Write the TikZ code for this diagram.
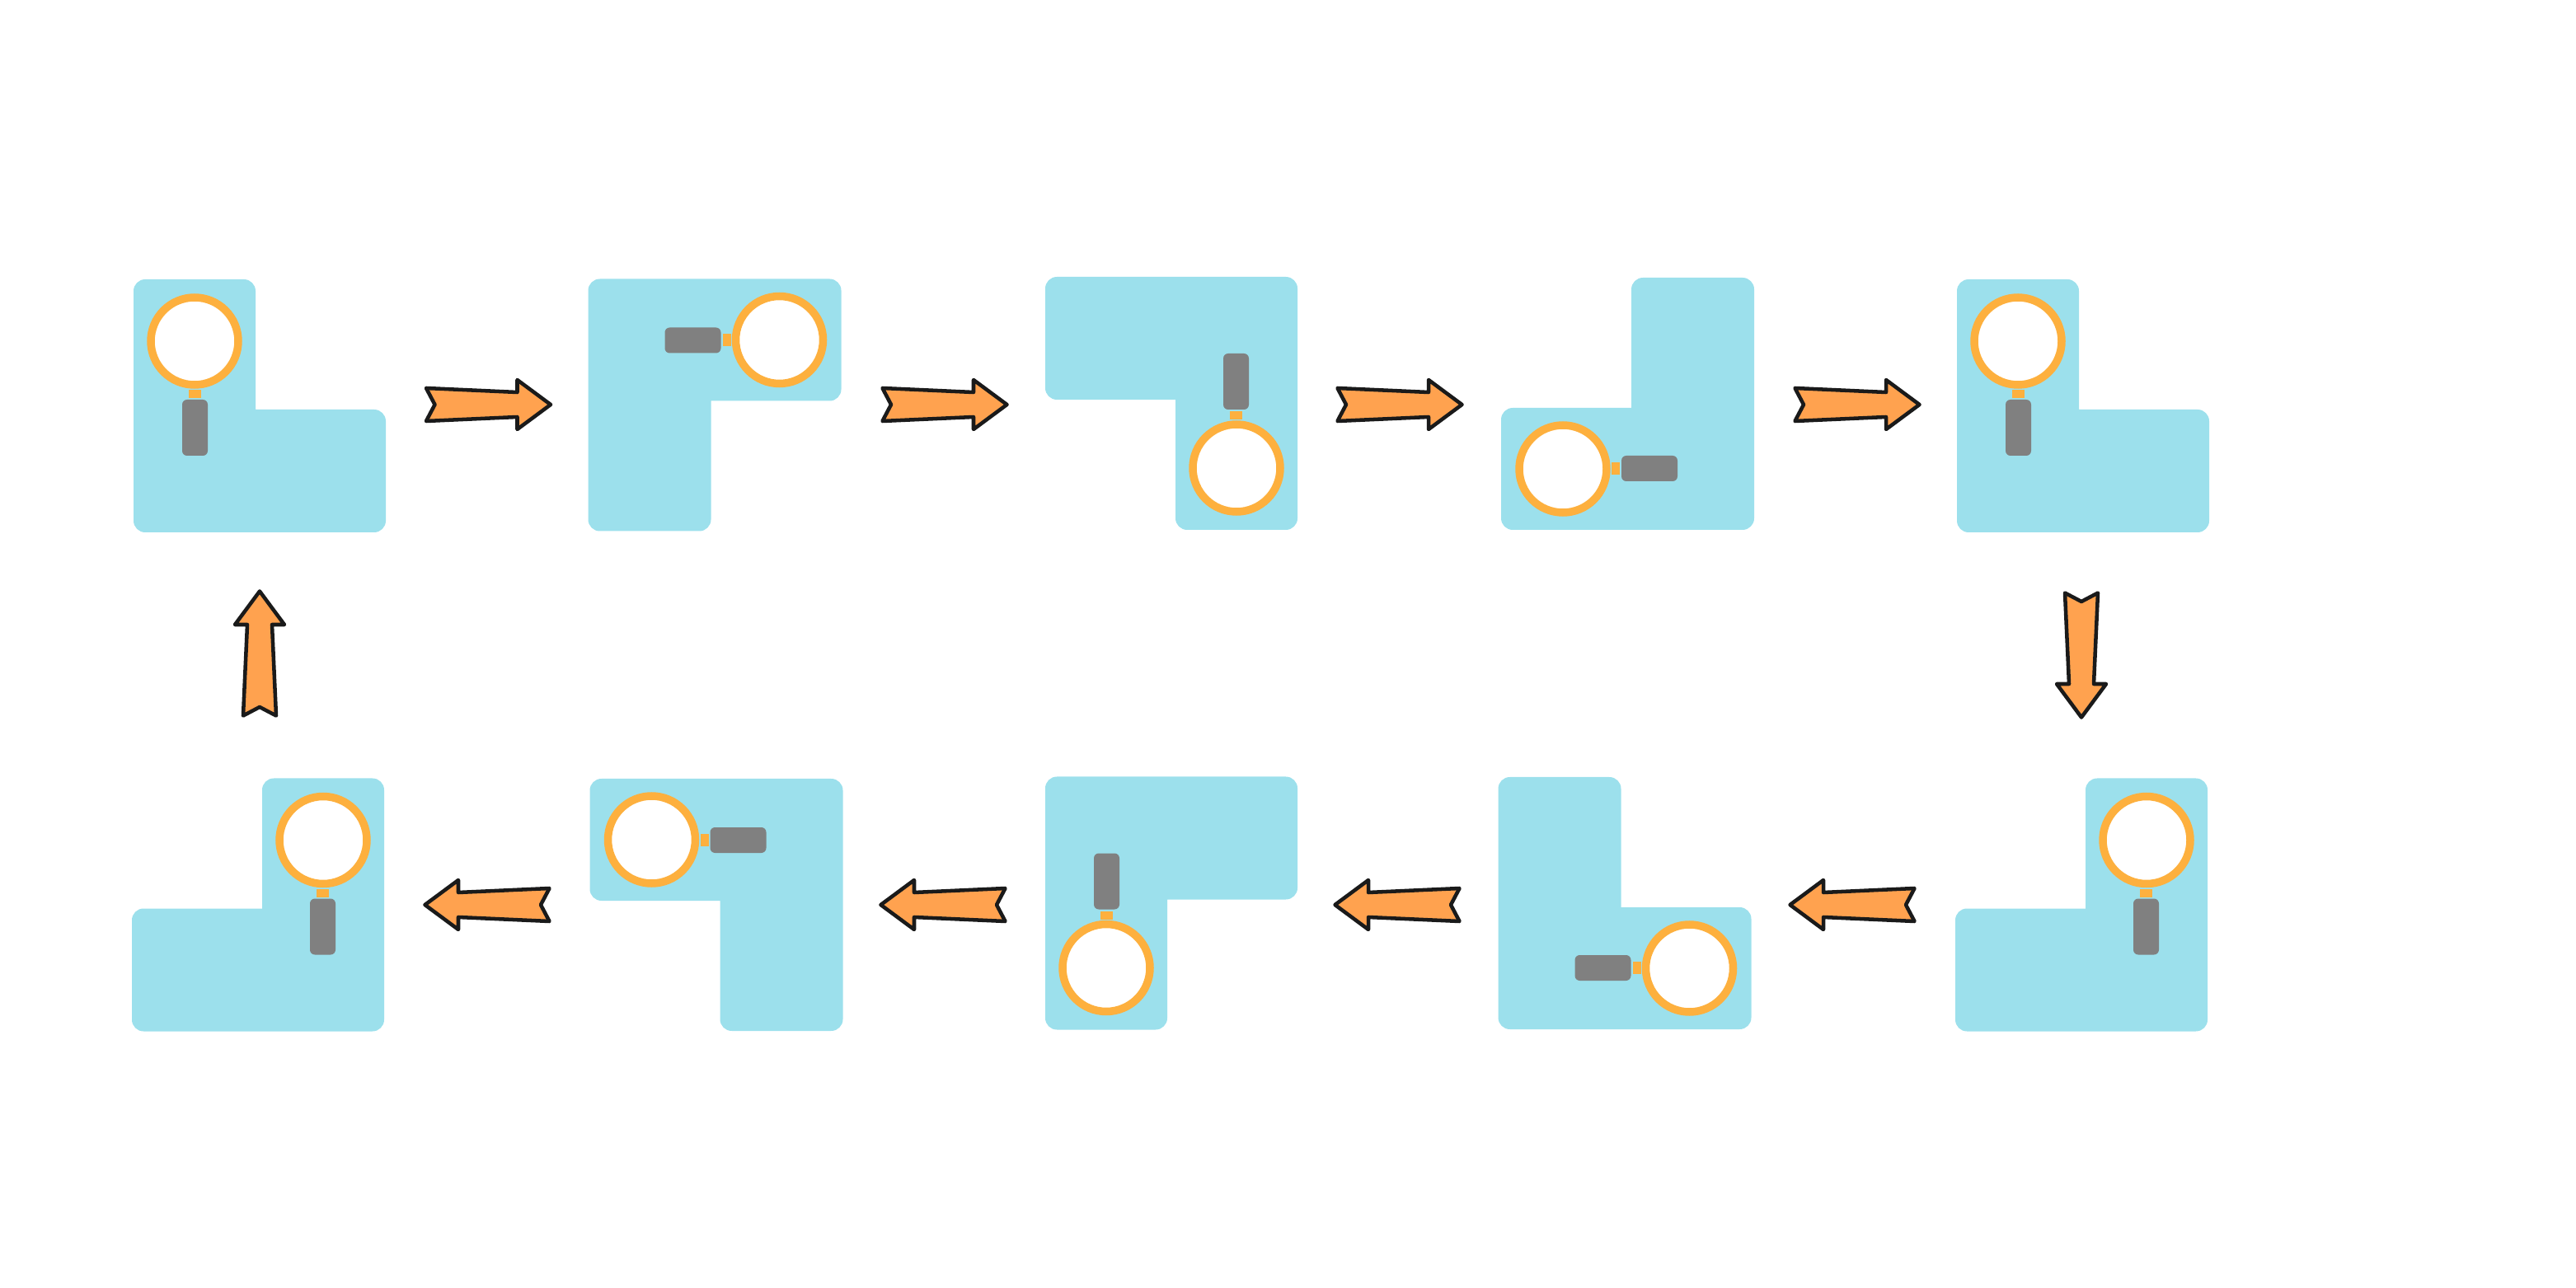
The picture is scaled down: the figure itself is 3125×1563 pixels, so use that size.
\documentclass[tikz,border=0pt]{standalone}
\usepackage{xcolor}
\usepackage{tikz}

\definecolor{blockblue}{RGB}{156,224,236}
\definecolor{ringorange}{RGB}{253,176,62}
\definecolor{arroworange}{RGB}{255,162,79}
\definecolor{handlegrey}{RGB}{128,128,128}
\definecolor{arrowline}{RGB}{26,26,26}

\tikzset{
    blockfill/.style={fill=blockblue, draw=none},
    lensring/.style={draw=ringorange, fill=white, line width=3.04pt},
    lensstub/.style={fill=ringorange, draw=none},
    lenshandle/.style={fill=handlegrey, draw=none, rounded corners=1.9pt},
    flowarrow/.style={draw=arrowline, fill=arroworange, line width=1.45pt, line join=round},
    pics/lblock/.style={code={
        % L shaped block with the lens in the end of its long arm
        \path [blockfill] (-5,4.5) [rounded corners=4.5pt] -- (-5,-153.5) -- (-153,-153.5) -- (-153,153.5) -- (153,153.5) -- (153,4.5) [sharp corners] -- cycle ;
        \path [lensstub] (-86.4,-19.5) rectangle (-71,-9.5) ;
        \path [lenshandle] (-94,-7.5) rectangle (-63,60.5) ;
        \draw [lensring] (-79,-78.5) circle (53) ;
    }},
    pics/flowarr/.style={code={
        \draw [flowarrow] (-75.5,-20) -- (-65,0) -- (-75.5,20) -- (35,15) -- (35,30) -- (75.5,0) -- (35,-30) -- (35,-15) -- cycle ;
    }},
}

\begin{document}
\begin{tikzpicture}[x=0.32pt,y=0.32pt,yscale=-1,xscale=1]
    \useasboundingbox (0,0) rectangle (3125,1563);

    % top row, left to right
    \pic [yscale=-1] at (315,492.5) {lblock};
    \pic [yscale=-1,rotate=90] at (867,491.5) {lblock};
    \pic [yscale=-1,rotate=180] at (1421,489.5) {lblock};
    \pic [yscale=-1,rotate=270] at (1974.5,490) {lblock};
    \pic [yscale=-1] at (2527,492.5) {lblock};

    % bottom row, mirrored
    \pic [yscale=-1,xscale=-1] at (2525,1098) {lblock};
    \pic [yscale=-1,rotate=90,xscale=-1] at (1971,1096) {lblock};
    \pic [yscale=-1,rotate=180,xscale=-1] at (1421,1096) {lblock};
    \pic [yscale=-1,rotate=270,xscale=-1] at (869,1098) {lblock};
    \pic [yscale=-1,xscale=-1] at (313,1098) {lblock};

    % arrows of the top row
    \pic [yscale=-1] at (592.5,491) {flowarr};
    \pic [yscale=-1] at (1146,491) {flowarr};
    \pic [yscale=-1] at (1698,491) {flowarr};
    \pic [yscale=-1] at (2253,491) {flowarr};

    % arrows between the rows
    \pic [yscale=-1,rotate=90] at (2525,795) {flowarr};
    \pic [yscale=-1,rotate=270] at (315,793) {flowarr};

    % arrows of the bottom row
    \pic [yscale=-1,rotate=180] at (2247,1098) {flowarr};
    \pic [yscale=-1,rotate=180] at (1695,1098) {flowarr};
    \pic [yscale=-1,rotate=180] at (1144,1098) {flowarr};
    \pic [yscale=-1,rotate=180] at (591,1098) {flowarr};
\end{tikzpicture}
\end{document}
